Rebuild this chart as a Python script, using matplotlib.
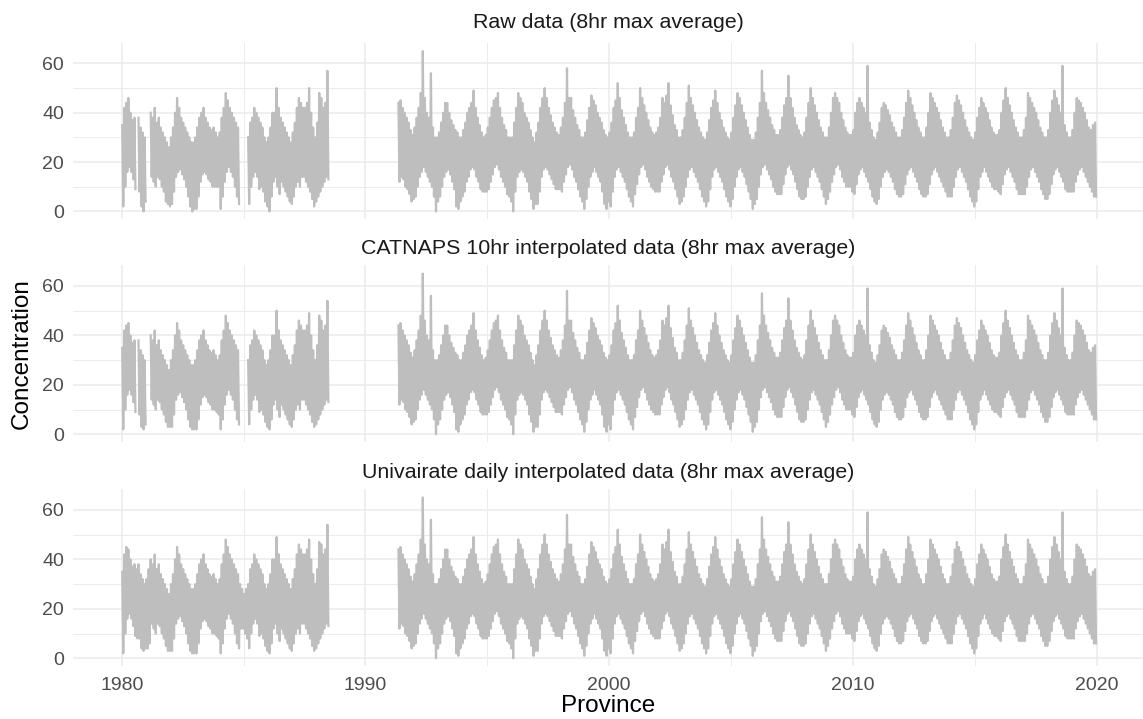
import numpy as np
import matplotlib.pyplot as plt

nan = np.nan

# monthly highs / lows, one row per year
# early block: Jan 1980 - Jun 1988
raw_early_hi = [
    [35, 42, 44, 46, 40, 37, 38, nan, 38, 34, 32, 30],
    [nan, nan, 40, 38, 42, 36, 38, 34, 32, 30, 28, 26],
    [30, 34, 40, 46, 42, 38, 36, 34, 32, 30, 28, 28],
    [30, 34, 38, 40, 42, 38, 36, 34, 33, 34, 32, 30],
    [32, 38, 42, 48, 45, 42, 40, 38, 36, 34, nan, nan],
    [nan, nan, 30, 36, 38, 42, 40, 38, 36, 34, 30, 28],
    [30, 34, 40, 40, 50, 42, 38, 36, 34, 32, 30, 28],
    [32, 36, 42, 46, 44, 42, 42, 44, 50, 40, 34, 30],
    [36, 48, 46, 42, 44, 57],
]
raw_early_lo = [
    [2, 10, 16, 18, 16, 13, 9, nan, 8, 2, 0, 4],
    [nan, nan, 14, 12, 10, 14, 13, 10, 8, 4, 3, 2],
    [3, 8, 14, 16, 17, 15, 13, 10, 6, 2, 0, 1],
    [1, 6, 12, 15, 16, 15, 13, 12, 10, 10, 10, 10],
    [1, 6, 12, 16, 18, 16, 14, 10, 6, 3, nan, nan],
    [nan, nan, 3, 10, 14, 16, 14, 9, 10, 8, 4, 2],
    [0, 6, 12, 14, 10, 7, 12, 10, 8, 6, 4, 3],
    [6, 10, 12, 10, 14, 14, 12, 10, 8, 5, 2, 4],
    [6, 8, 10, 12, 14, 13],
]

catnaps_early_hi = [
    [35, 42, 44, 45, 40, 37, 38, nan, 38, 34, 32, 30],
    [nan, nan, 40, 38, 42, 36, 38, 34, 32, 30, 28, 26],
    [30, 34, 40, 45, 42, 38, 36, 34, 32, 30, 28, 28],
    [30, 34, 38, 40, 42, 38, 36, 34, 33, 34, 32, 30],
    [32, 38, 42, 48, 45, 42, 40, 38, 36, 34, nan, nan],
    [nan, nan, 30, 36, 38, 42, 40, 38, 36, 34, 30, 28],
    [30, 34, 40, 40, 50, 42, 38, 36, 34, 32, 30, 28],
    [32, 36, 42, 46, 44, 42, 42, 44, 49, 40, 34, 30],
    [36, 48, 46, 42, 44, 54],
]
catnaps_early_lo = [
    [2, 10, 16, 18, 16, 13, 9, nan, 8, 3, 2, 4],
    [nan, nan, 14, 12, 10, 14, 13, 10, 8, 5, 3, 3],
    [3, 8, 14, 16, 17, 15, 13, 10, 6, 3, 2, 2],
    [2, 6, 12, 15, 16, 15, 13, 12, 10, 10, 9, 8],
    [2, 6, 12, 16, 18, 16, 14, 10, 6, 4, nan, nan],
    [nan, nan, 4, 10, 14, 16, 14, 9, 10, 8, 5, 3],
    [2, 6, 12, 14, 10, 7, 12, 10, 8, 6, 4, 3],
    [6, 10, 12, 10, 14, 14, 12, 10, 8, 5, 3, 4],
    [6, 8, 10, 12, 14, 13],
]

univ_early_hi = [
    [35, 42, 45, 44, 40, 37, 38, 36, 38, 34, 32, 30],
    [32, 36, 40, 38, 42, 36, 38, 34, 32, 30, 28, 26],
    [30, 34, 40, 45, 42, 38, 36, 34, 32, 30, 28, 28],
    [30, 34, 38, 40, 42, 38, 36, 34, 33, 34, 32, 30],
    [32, 38, 42, 48, 45, 42, 40, 38, 36, 34, 30, 28],
    [26, 28, 30, 36, 38, 42, 40, 38, 36, 34, 30, 28],
    [30, 34, 40, 40, 49, 42, 38, 36, 34, 32, 30, 28],
    [32, 36, 42, 46, 44, 42, 42, 44, 48, 40, 34, 30],
    [36, 47, 46, 42, 44, 54],
]
univ_early_lo = [
    [2, 10, 16, 18, 16, 13, 9, 8, 8, 4, 3, 4],
    [4, 6, 14, 12, 10, 14, 13, 10, 8, 5, 3, 3],
    [3, 8, 14, 16, 17, 15, 13, 10, 6, 3, 2, 2],
    [2, 6, 12, 15, 16, 15, 13, 12, 10, 10, 9, 8],
    [2, 6, 12, 16, 18, 16, 14, 10, 6, 4, 12, 12],
    [10, 8, 4, 10, 14, 16, 14, 9, 10, 8, 5, 3],
    [2, 6, 12, 14, 10, 7, 12, 10, 8, 6, 4, 3],
    [6, 10, 12, 10, 14, 14, 12, 10, 8, 5, 3, 4],
    [6, 8, 10, 12, 14, 13],
]

# late block: May 1991 - Dec 2019 (same in all three panels)
late_hi = [
    [44, 45, 42, 40, 38, 36, 33, 31],
    [34, 38, 42, 48, 65, 46, 40, 38, 56, 34, 30, 30],
    [32, 36, 40, 44, 44, 40, 37, 35, 33, 32, 30, 30],
    [33, 36, 40, 42, 44, 49, 42, 38, 35, 32, 30, 31],
    [34, 38, 42, 45, 46, 48, 42, 38, 35, 33, 30, 30],
    [30, 36, 42, 48, 46, 44, 40, 38, 36, 33, 30, 28],
    [32, 36, 42, 46, 50, 46, 42, 39, 36, 34, 32, 31],
    [34, 38, 44, 58, 46, 46, 41, 38, 35, 33, 30, 30],
    [32, 37, 42, 47, 45, 43, 40, 38, 36, 33, 31, 30],
    [32, 36, 42, 45, 52, 46, 41, 38, 35, 32, 30, 30],
    [32, 38, 42, 50, 46, 43, 40, 37, 34, 32, 31, 32],
    [34, 38, 46, 44, 47, 52, 43, 39, 35, 33, 30, 30],
    [33, 38, 44, 51, 46, 43, 40, 37, 34, 32, 30, 29],
    [32, 37, 42, 45, 49, 44, 40, 37, 34, 32, 30, 29],
    [32, 38, 43, 48, 46, 43, 40, 37, 34, 31, 29, 29],
    [32, 38, 44, 57, 48, 44, 41, 38, 35, 33, 31, 31],
    [33, 38, 43, 46, 55, 46, 42, 38, 35, 33, 31, 30],
    [32, 38, 44, 50, 46, 43, 40, 37, 34, 32, 30, 30],
    [34, 40, 46, 48, 46, 44, 40, 37, 34, 32, 31, 31],
    [33, 40, 44, 46, 44, 42, 40, 59, 36, 33, 30, 29],
    [32, 36, 42, 44, 43, 41, 39, 36, 34, 32, 30, 30],
    [33, 38, 44, 49, 46, 43, 40, 37, 34, 32, 30, 30],
    [34, 40, 48, 46, 44, 42, 40, 37, 34, 32, 30, 30],
    [33, 38, 44, 47, 45, 43, 40, 37, 34, 32, 30, 29],
    [32, 38, 42, 46, 44, 42, 40, 37, 34, 32, 31, 31],
    [33, 40, 45, 50, 46, 43, 40, 37, 34, 32, 30, 30],
    [33, 38, 48, 46, 44, 42, 40, 37, 34, 32, 30, 30],
    [33, 40, 45, 49, 46, 43, 40, 59, 35, 32, 30, 30],
    [33, 40, 46, 45, 44, 42, 40, 37, 34, 33, 35, 36],
]
late_lo = [
    [12, 14, 13, 10, 9, 7, 4, 5],
    [6, 10, 14, 16, 18, 16, 14, 12, 10, 6, 0, 4],
    [6, 10, 14, 16, 17, 15, 12, 9, 2, 1, 4, 6],
    [8, 12, 14, 17, 18, 17, 14, 12, 9, 8, 8, 8],
    [9, 12, 15, 18, 19, 17, 14, 12, 10, 7, 6, 4],
    [0, 8, 14, 16, 17, 16, 14, 12, 8, 5, 1, 3],
    [3, 8, 14, 17, 18, 17, 15, 13, 11, 9, 9, 9],
    [8, 12, 15, 18, 19, 17, 14, 12, 9, 6, 4, 1],
    [5, 10, 14, 16, 18, 16, 14, 12, 8, 3, 1, 4],
    [2, 8, 14, 17, 18, 16, 14, 12, 9, 6, 4, 2],
    [7, 11, 15, 18, 19, 17, 14, 12, 10, 9, 8, 8],
    [8, 12, 15, 18, 19, 17, 14, 12, 9, 6, 3, 4],
    [6, 10, 14, 17, 18, 16, 14, 12, 9, 6, 4, 2],
    [4, 9, 14, 17, 18, 16, 14, 12, 9, 6, 4, 2],
    [5, 10, 14, 17, 18, 16, 14, 11, 8, 5, 1, 3],
    [5, 10, 15, 18, 19, 17, 15, 13, 10, 8, 7, 7],
    [7, 11, 15, 18, 19, 17, 15, 12, 9, 6, 5, 5],
    [6, 10, 14, 17, 18, 16, 14, 12, 9, 6, 3, 5],
    [8, 12, 15, 18, 19, 17, 14, 12, 10, 10, 10, 8],
    [7, 11, 15, 17, 18, 16, 14, 12, 9, 6, 4, 3],
    [5, 10, 14, 16, 17, 16, 14, 12, 9, 7, 6, 6],
    [7, 11, 15, 17, 18, 16, 14, 12, 9, 7, 6, 6],
    [7, 11, 15, 17, 18, 16, 14, 12, 10, 8, 6, 6],
    [6, 10, 14, 17, 18, 16, 14, 12, 9, 6, 4, 2],
    [4, 9, 14, 16, 18, 16, 14, 12, 10, 9, 9, 8],
    [7, 11, 15, 17, 18, 16, 14, 12, 9, 7, 7, 7],
    [7, 10, 14, 17, 18, 16, 14, 12, 9, 7, 5, 5],
    [7, 11, 15, 17, 18, 16, 14, 12, 9, 8, 8, 8],
    [8, 12, 15, 17, 18, 16, 14, 12, 10, 8, 6, 6],
]

early_start = 1980.0
late_start = 1991 + 4 / 12

titles = ['Raw data (8hr max average)',
          'CATNAPS 10hr interpolated data (8hr max average)',
          'Univairate daily interpolated data (8hr max average)']
panels = [(raw_early_hi, raw_early_lo),
          (catnaps_early_hi, catnaps_early_lo),
          (univ_early_hi, univ_early_lo)]


def zigzag(start, hi_rows, lo_rows):
    # each month drawn as high -> low so the daily scatter shows as a band
    hi = np.concatenate([np.array(r, float) for r in hi_rows])
    lo = np.concatenate([np.array(r, float) for r in lo_rows])
    t = start + np.arange(len(hi)) / 12
    x = np.column_stack([t + 0.25 / 12, t + 0.75 / 12]).ravel()
    y = np.column_stack([hi, lo]).ravel()
    return x, y


W, H = 1143, 719
fig = plt.figure(figsize=(W / 100, H / 100), dpi=100)
plt.rcParams['font.family'] = ['Liberation Sans', 'DejaVu Sans']

# panel boxes in pixels (top, bottom)
boxes = [(42.7, 219.3), (265.2, 442.2), (489.1, 666.2)]
title_y = [22, 248, 472]
left_px = 73
line_col = '#BEBEBE'
grid_col = '#EBEBEB'

for i, (hi_rows, lo_rows) in enumerate(panels):
    top, bot = boxes[i]
    ax = fig.add_axes([left_px / W, 1 - bot / H, 1 - left_px / W, (bot - top) / H])
    x1, y1 = zigzag(early_start, hi_rows, lo_rows)
    x2, y2 = zigzag(late_start, late_hi, late_lo)
    ax.plot(x1, y1, color=line_col, lw=1.6, zorder=3)
    ax.plot(x2, y2, color=line_col, lw=1.6, zorder=3)

    ax.set_xlim(1978, 1978 + (W - left_px) / 24.37)
    ax.set_ylim(-3.2, 68.4)
    ax.set_xticks([1980, 1990, 2000, 2010, 2020])
    ax.set_xticks([1985, 1995, 2005, 2015], minor=True)
    ax.set_yticks([0, 20, 40, 60])
    ax.set_yticks([10, 30, 50], minor=True)
    ax.grid(which='major', color=grid_col, lw=1.1, zorder=0)
    ax.grid(which='minor', color=grid_col, lw=0.7, zorder=0)
    for s in ax.spines.values():
        s.set_visible(False)
    ax.tick_params(which='both', length=0, labelsize=14, labelcolor='#4D4D4D')
    ax.tick_params(axis='y', pad=6.5)
    ax.tick_params(axis='x', pad=8)
    if i < 2:
        ax.set_xticklabels([])
    fig.text(608 / W, 1 - title_y[i] / H, titles[i], ha='center', va='center',
             fontsize=15.4, color='#1A1A1A')

fig.text(608 / W, 1 - 706 / H, 'Province', ha='center', va='center', fontsize=17.5)
fig.text(22 / W, 1 - 354 / H, 'Concentration', ha='center', va='center',
         rotation=90, fontsize=17.5)

fig.savefig('out.png', dpi=100, facecolor='white')
